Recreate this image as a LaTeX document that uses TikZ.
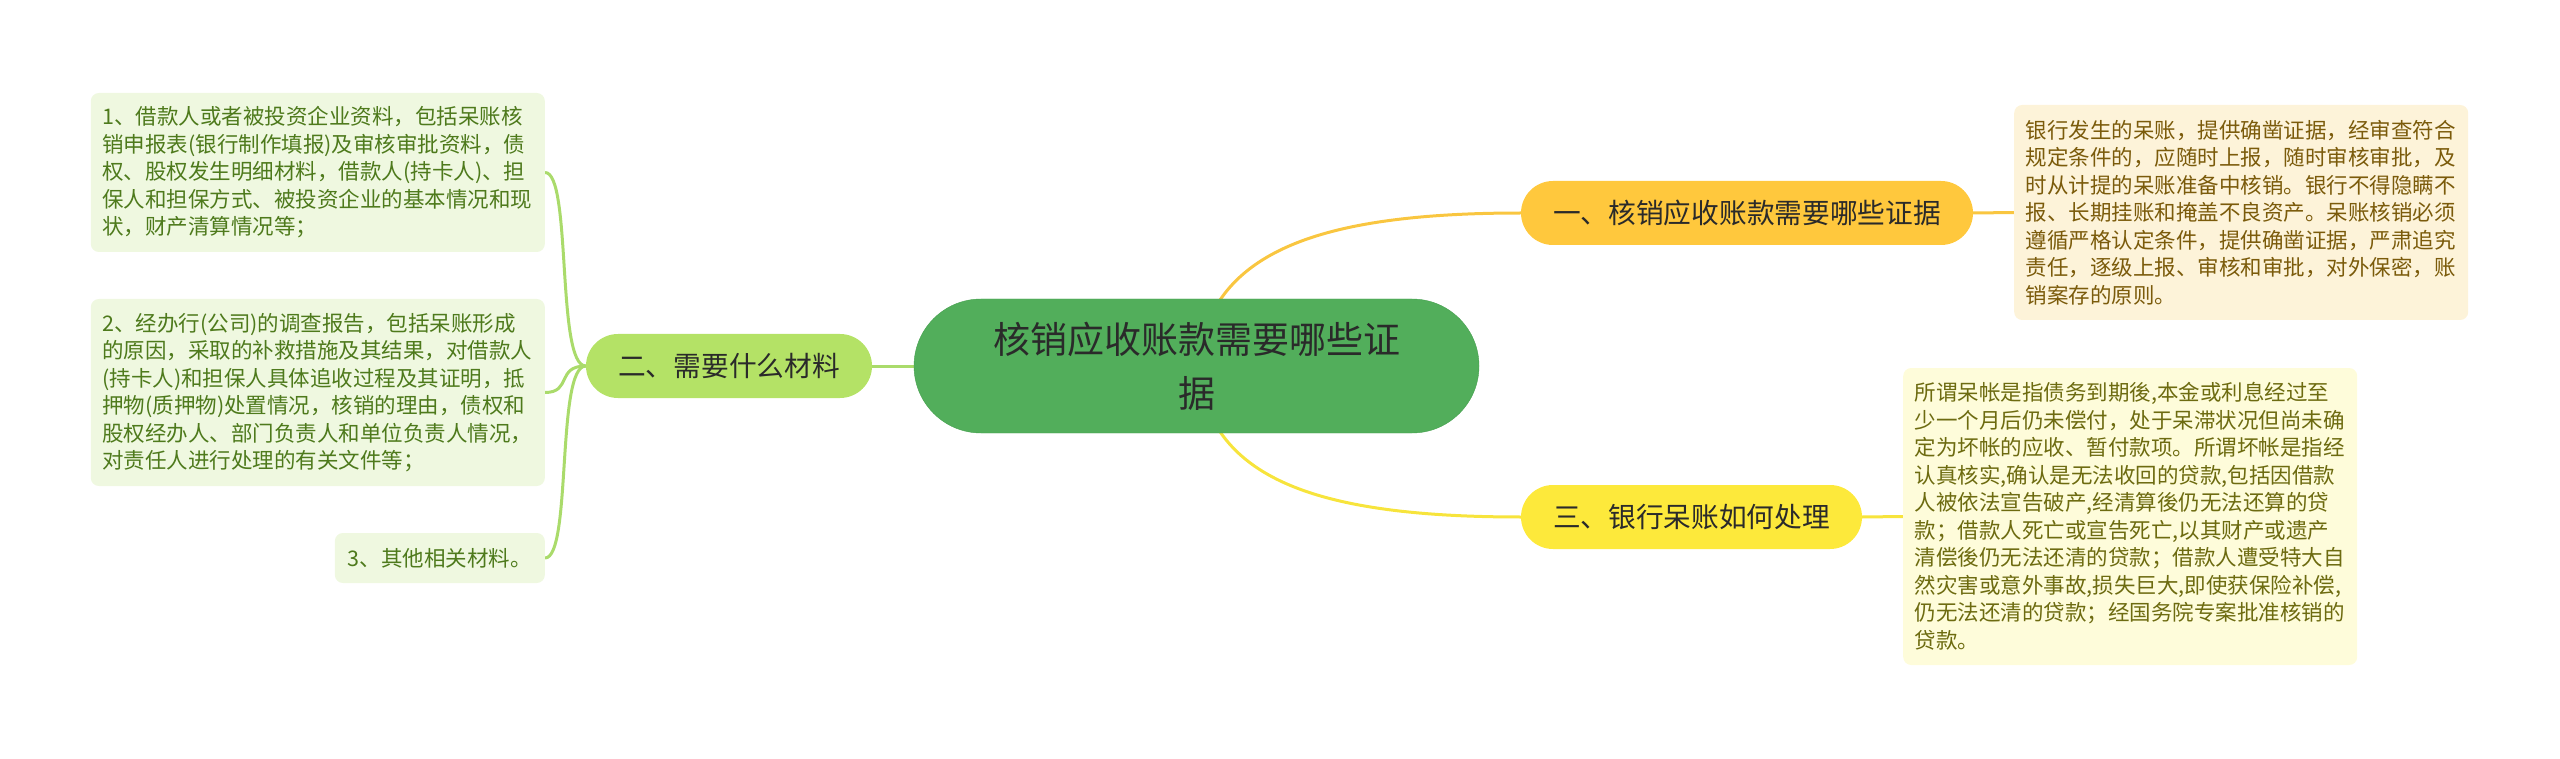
\documentclass[tikz,border=0pt]{standalone}
\usepackage{fontspec}
\setmainfont{Noto Sans CJK SC}
\usetikzlibrary{backgrounds}
\definecolor{rootfill}{HTML}{52AE5B}
\definecolor{rootedge}{HTML}{46A04F}
\definecolor{roottext}{HTML}{2A2A2A}
\definecolor{evidfill}{HTML}{FFC83D}
\definecolor{evidline}{HTML}{F9C640}
\definecolor{dealfill}{HTML}{FDE93B}
\definecolor{dealline}{HTML}{F7E43C}
\definecolor{matfill}{HTML}{B4E266}
\definecolor{matline}{HTML}{AADB6B}
\definecolor{matleaf}{HTML}{EFF8E0}
\definecolor{mattext}{HTML}{4E7A1C}
\definecolor{evidleaf}{HTML}{FDF3D9}
\definecolor{evidtext}{HTML}{7B5B0B}
\definecolor{dealleaf}{HTML}{FEFCDA}
\definecolor{dealtext}{HTML}{6D6B10}
\begin{document}
\begin{tikzpicture}[x=1pt,y=-1pt,
  leafbox/.style={rounded corners=8pt, inner xsep=11.5pt, inner ysep=0pt, text width=431pt, align=left,
    font=\fontsize{21.5pt}{27.5pt}\selectfont},
  branch/.style={rounded corners=32pt, minimum height=64pt, inner sep=0pt, text=roottext,
    font=\fontsize{27.7pt}{32pt}\selectfont},
  link/.style={line width=3pt}]
  \useasboundingbox (0,0) rectangle (2560,759);
  % central topic
  \node[fill=rootfill, draw=rootedge, rounded corners=67pt, minimum width=565pt, minimum height=134pt,
    inner sep=0pt, align=center, text=roottext, font=\fontsize{37pt}{54pt}\selectfont]
    (root) at (1196.5,366) {核销应收账款需要哪些证\\据};
  % main branches
  \node[branch, fill=evidfill, minimum width=452pt] (evid) at (1747,213) {一、核销应收账款需要哪些证据};
  \node[branch, fill=matfill, minimum width=286pt] (mat) at (729,366) {二、需要什么材料};
  \node[branch, fill=dealfill, minimum width=341pt] (deal) at (1691.5,517) {三、银行呆账如何处理};
  % leaves of branch two
  \node[leafbox, fill=matleaf, text=mattext, minimum height=159pt, anchor=east] (mat1) at (545,172.5)
    {1、借款人或者被投资企业资料，包括呆账核\\销申报表(银行制作填报)及审核审批资料，债\\权、股权发生明细材料，借款人(持卡人)、担\\保人和担保方式、被投资企业的基本情况和现\\状，财产清算情况等；};
  \node[leafbox, fill=matleaf, text=mattext, minimum height=187pt, anchor=east] (mat2) at (545,392.5)
    {2、经办行(公司)的调查报告，包括呆账形成\\的原因，采取的补救措施及其结果，对借款人\\(持卡人)和担保人具体追收过程及其证明，抵\\押物(质押物)处置情况，核销的理由，债权和\\股权经办人、部门负责人和单位负责人情况，\\对责任人进行处理的有关文件等；};
  \node[leafbox, fill=matleaf, text=mattext, minimum height=50pt, anchor=east, text width=, inner xsep=13pt] (mat3) at (545,558)
    {3、其他相关材料。};
  % leaves of branches one and three
  \node[leafbox, fill=evidleaf, text=evidtext, minimum height=215pt, anchor=west] (evid1) at (2014,212.5)
    {银行发生的呆账，提供确凿证据，经审查符合\\规定条件的，应随时上报，随时审核审批，及\\时从计提的呆账准备中核销。银行不得隐瞒不\\报、长期挂账和掩盖不良资产。呆账核销必须\\遵循严格认定条件，提供确凿证据，严肃追究\\责任，逐级上报、审核和审批，对外保密，账\\销案存的原则。};
  \node[leafbox, fill=dealleaf, text=dealtext, minimum height=297pt, anchor=west] (deal1) at (1903,516.5)
    {所谓呆帐是指债务到期後,本金或利息经过至\\少一个月后仍未偿付，处于呆滞状况但尚未确\\定为坏帐的应收、暂付款项。所谓坏帐是指经\\认真核实,确认是无法收回的贷款,包括因借款\\人被依法宣告破产,经清算後仍无法还算的贷\\款；借款人死亡或宣告死亡,以其财产或遗产\\清偿後仍无法还清的贷款；借款人遭受特大自\\然灾害或意外事故,损失巨大,即使获保险补偿,\\仍无法还清的贷款；经国务院专案批准核销的\\贷款。};
  % connectors
  \begin{scope}[on background layer]
    \draw[link, evidline] (root.center) .. controls (1210,260) and (1300,213) .. (evid.west);
    \draw[link, dealline] (root.center) .. controls (1210,472) and (1300,517) .. (deal.west);
    \draw[link, matline] (root.center) -- (mat.center);
    \draw[link, evidline] (evid.east) -- (evid1.west);
    \draw[link, dealline] (deal.east) -- (deal1.west);
    \draw[link, matline] (mat.west) .. controls (556,366) and (572,172.5) .. (mat1.east);
    \draw[link, matline] (mat.west) .. controls (556,366) and (572,392.5) .. (mat2.east);
    \draw[link, matline] (mat.west) .. controls (556,366) and (572,558) .. (mat3.east);
  \end{scope}
\end{tikzpicture}
\end{document}
